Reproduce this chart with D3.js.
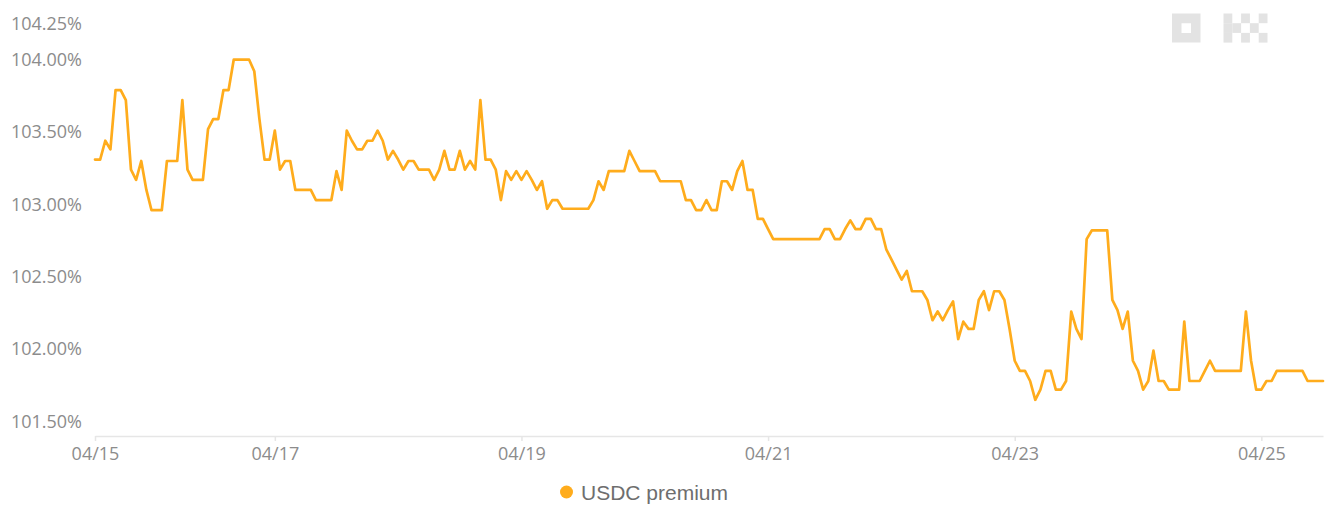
<!DOCTYPE html>
<html>
<head>
<meta charset="utf-8">
<script src="https://cdn.jsdelivr.net/npm/d3@7/dist/d3.min.js"></script>
<style>
  html, body { margin: 0; padding: 0; background: #ffffff; }
  svg { display: block; }
</style>
</head>
<body>
<svg id="chart" width="1334" height="508"></svg>
<script>
// ---- data (hourly, first point 04/15 13:00) ----
const seriesName = "USDC premium";
const startTime = "2024-04-15T13:00:00";
const premium = [
  103.31,103.31,103.44,103.38,103.79,103.79,103.72,103.24,103.17,103.30,
  103.10,102.96,102.96,102.96,103.30,103.30,103.30,103.72,103.24,103.17,
  103.17,103.17,103.52,103.59,103.59,103.79,103.79,104.00,104.00,104.00,
  104.00,103.92,103.59,103.31,103.31,103.51,103.24,103.30,103.30,103.10,
  103.10,103.10,103.10,103.03,103.03,103.03,103.03,103.23,103.10,103.51,
  103.44,103.38,103.38,103.44,103.44,103.51,103.44,103.31,103.37,103.31,
  103.24,103.30,103.30,103.24,103.24,103.24,103.17,103.24,103.37,103.24,
  103.24,103.37,103.24,103.30,103.24,103.72,103.31,103.31,103.24,103.03,
  103.23,103.17,103.23,103.17,103.23,103.17,103.10,103.16,102.97,103.03,
  103.03,102.97,102.97,102.97,102.97,102.97,102.97,103.03,103.16,103.10,
  103.23,103.23,103.23,103.23,103.37,103.30,103.23,103.23,103.23,103.23,
  103.16,103.16,103.16,103.16,103.16,103.03,103.03,102.96,102.96,103.03,
  102.96,102.96,103.16,103.16,103.10,103.23,103.30,103.10,103.10,102.90,
  102.90,102.83,102.76,102.76,102.76,102.76,102.76,102.76,102.76,102.76,
  102.76,102.76,102.83,102.83,102.76,102.76,102.83,102.89,102.83,102.83,
  102.90,102.90,102.83,102.83,102.69,102.62,102.55,102.48,102.54,102.40,
  102.40,102.40,102.34,102.20,102.26,102.20,102.27,102.33,102.07,102.19,
  102.14,102.14,102.34,102.40,102.27,102.40,102.40,102.34,102.14,101.92,
  101.85,101.85,101.78,101.65,101.72,101.85,101.85,101.72,101.72,101.78,
  102.26,102.14,102.07,102.76,102.82,102.82,102.82,102.82,102.34,102.27,
  102.14,102.26,101.92,101.85,101.72,101.78,101.99,101.78,101.78,101.72,
  101.72,101.72,102.19,101.78,101.78,101.78,101.85,101.92,101.85,101.85,
  101.85,101.85,101.85,101.85,102.26,101.92,101.72,101.72,101.78,101.78,
  101.85,101.85,101.85,101.85,101.85,101.85,101.78,101.78,101.78,101.78
];
const yTicks = [101.5, 102.0, 102.5, 103.0, 103.5, 104.0, 104.25];
const xTickDates = ["2024-04-15T13:00:00","2024-04-17T00:00:00","2024-04-19T00:00:00",
                    "2024-04-21T00:00:00","2024-04-23T00:00:00","2024-04-25T00:00:00"];

// ---- build ----
const parse = d3.isoParse;
const t0 = parse(startTime);
const data = premium.map((v, i) => ({ t: d3.timeHour.offset(t0, i), v }));

const svg = d3.select("#chart");
const lineColor = "#ffac1c";
const labelColor = "#8c8c8c";

const x = d3.scaleTime()
  .domain(d3.extent(data, d => d.t))
  .range([95, 1323]);
const y = d3.scaleLinear()
  .domain([101.4, 104.25])
  .range([436, 23.5]);

// watermark logo (OKX style blocks)
const logo = svg.append("g").attr("fill", "#e3e3e3");
logo.append("path")
  .attr("fill-rule", "evenodd")
  .attr("d", "M1172,13.5h28.5v29h-28.5z M1181.5,23.2v9.8h9.5v-9.8z");
const u = 8.8, kx0 = 1223.5, rows = [13.5, 23.2, 32.9];
// K and X share the centre column of a 5x3 block grid
const kxCells = [[0,0],[0,1],[0,2],[1,1],[2,0],[2,2],[3,1],[4,0],[4,2]];
kxCells.forEach(([c, r]) => {
  logo.append("rect").attr("x", kx0 + c * u).attr("y", rows[r])
    .attr("width", u).attr("height", 9.7);
});

// x axis
const xAxis = d3.axisBottom(x)
  .tickValues(xTickDates.map(parse))
  .tickFormat(d3.timeFormat("%m/%d"))
  .tickSizeInner(5).tickSizeOuter(0).tickPadding(6);
const gx = svg.append("g").attr("transform", "translate(0,436)").call(xAxis);
gx.select(".domain").attr("stroke", "#e6e6e6").attr("stroke-width", 1.5);
gx.selectAll(".tick line").attr("stroke", "#e6e6e6").attr("stroke-width", 1.5);
gx.selectAll(".tick text")
  .attr("fill", labelColor)
  .attr("font-family", "'Open Sans', sans-serif")
  .attr("font-size", 18);

// y axis (labels only)
const yAxis = d3.axisLeft(y)
  .tickValues(yTicks)
  .tickFormat(d => d3.format(".2f")(d) + "%")
  .tickSize(0).tickPadding(0);
const gy = svg.append("g").attr("transform", "translate(82,0)").call(yAxis);
gy.select(".domain").remove();
gy.selectAll(".tick text")
  .attr("fill", labelColor)
  .attr("font-family", "'Open Sans', sans-serif")
  .attr("font-size", 18);

// line
const line = d3.line().x(d => x(d.t)).y(d => y(d.v));
svg.append("path")
  .datum(data)
  .attr("fill", "none")
  .attr("stroke", lineColor)
  .attr("stroke-width", 2.7)
  .attr("stroke-linejoin", "round")
  .attr("stroke-linecap", "round")
  .attr("d", line);

// legend
const lg = svg.append("g");
lg.append("circle").attr("cx", 566.5).attr("cy", 492).attr("r", 6.5).attr("fill", lineColor);
lg.append("text")
  .attr("x", 581).attr("y", 492)
  .attr("dominant-baseline", "central")
  .attr("fill", "#6e6e6e")
  .attr("font-family", "'Liberation Sans', Arial, sans-serif")
  .attr("font-size", 21)
  .text(seriesName);
</script>
</body>
</html>
